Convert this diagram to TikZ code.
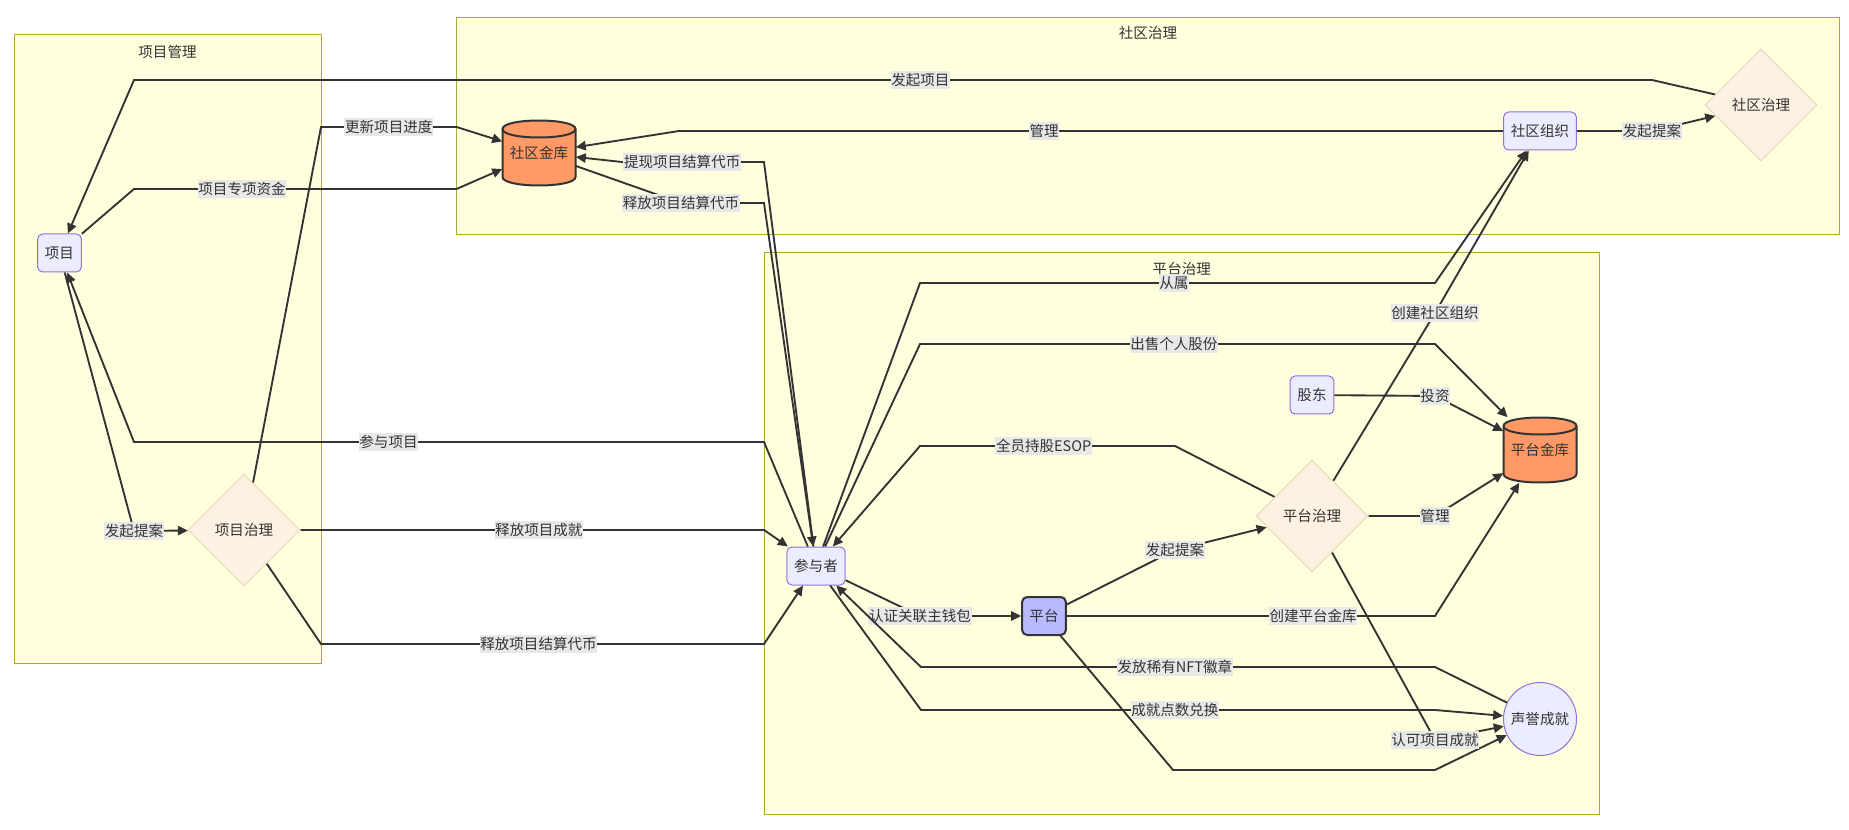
\documentclass[tikz,border=0pt]{standalone}
\usepackage{fontspec}
\setmainfont{Noto Sans CJK SC}
\usepackage{xcolor}
\definecolor{ink}{HTML}{333333}
\definecolor{lilac}{HTML}{ECECFF}
\definecolor{purpleline}{HTML}{9370DB}
\definecolor{cream}{HTML}{FFFFDE}
\definecolor{clusterline}{HTML}{AAAA33}
\definecolor{sand}{HTML}{FDF2E1}
\definecolor{sandline}{HTML}{EBDDC2}
\definecolor{tankorange}{HTML}{FF9966}
\definecolor{platform}{HTML}{B9B9FF}
\definecolor{labelgray}{HTML}{E8E8E8}
\usepackage{tikz}
\usetikzlibrary{arrows.meta,shapes.geometric}
\tikzset{
    cluster/.style={draw=clusterline, fill=cream, line width=0.75pt, inner sep=0pt},
    entity/.style={draw=purpleline, fill=lilac, line width=0.75pt, rounded corners=3.75pt, minimum height=28.5pt, inner xsep=5.5pt, inner ysep=0pt},
    core/.style={entity, draw=ink, fill=platform, line width=1.5pt},
    decision/.style={diamond, aspect=1, draw=sandline, fill=sand, line width=1pt, minimum width=84pt, minimum height=84pt, inner sep=0pt},
    tank/.style={minimum width=54.75pt, minimum height=48.75pt, inner sep=0pt},
    tankline/.style={draw=ink, fill=tankorange, line width=1.5pt},
    tankrim/.style={draw=ink, line width=1.5pt},
    badge/.style={circle, draw=purpleline, fill=lilac, line width=0.75pt, minimum size=54.75pt, inner sep=0pt},
    flow/.style={-{Triangle[length=7.5pt, width=7pt]}, draw=ink, line width=1.4pt},
    tag/.style={fill=labelgray, text=ink, inner xsep=0.5pt, inner ysep=1.5pt}
}
% cylinder body drawn behind a tank node, #1/#2 = centre
\newcommand{\tankbody}[2]{%
  \draw[tankline] (#1-36.5,#2-24) -- (#1-36.5,#2+24)
    .. controls (#1-36.5,#2+35.33) and (#1+36.5,#2+35.33) .. (#1+36.5,#2+24)
    -- (#1+36.5,#2-24)
    .. controls (#1+36.5,#2-35.33) and (#1-36.5,#2-35.33) .. cycle;
  \draw[tankrim] (#1-36.5,#2-24)
    .. controls (#1-36.5,#2-12.67) and (#1+36.5,#2-12.67) .. (#1+36.5,#2-24);}

\begin{document}
\begin{tikzpicture}[x=0.75pt, y=-0.75pt, font=\fontsize{10.9pt}{13pt}\selectfont, text=ink]
  \useasboundingbox (0,0) rectangle (1849,830);

  % Subgraph frames
  \node[cluster, minimum width=230.25pt, minimum height=471pt] (xmglbox) at (167.5,349) {};
  \node[cluster, minimum width=1037.25pt, minimum height=162.5pt] (sqzlbox) at (1148,125.7) {};
  \node[cluster, minimum width=626.7pt, minimum height=420.75pt] (ptzlbox) at (1181.8,533.5) {};
  \node (xmgltitle) at (167.5,52) {项目管理};
  \node (sqzltitle) at (1148,33) {社区治理};
  \node (ptzltitle) at (1181.8,269) {平台治理};

  % Project side
  \node[entity] (xm) at (59.5,253) {项目};
  \node[decision] (xmzl) at (244,530) {项目治理};

  % Community side
  \tankbody{539}{153}
  \node[tank] (ck) at (539,153) {社区金库};
  \node[entity] (sqzz) at (1540,131) {社区组织};
  \node[decision] (sqzl) at (1761,105) {社区治理};

  % Platform side
  \node[entity] (cyz) at (816,566) {参与者};
  \node[core] (pt) at (1044,616) {平台};
  \node[entity] (gd) at (1312,395) {股东};
  \node[decision] (ptzl) at (1312,516) {平台治理};
  \tankbody{1540}{450}
  \node[tank] (ptk) at (1540,450) {平台金库};
  \node[badge] (sycj) at (1540,719) {声誉成就};

  % Community links
  \draw[flow] (sqzl) -- (1652,80) -- node[tag, pos=0.482] {发起项目} (134,80) -- (xm);
  \draw[flow] (sqzz) -- node[tag, pos=0.557] {管理} (679,131) -- (ck);
  \draw[flow] (sqzz) -- (1652,131) node[tag] {发起提案} -- (sqzl);
  \draw[flow] (xm) -- (134,189) -- node[tag, pos=0.335] {项目专项资金} (456.5,189) -- (ck);
  \draw[flow] (xmzl) -- (321,127) -- node[tag] {更新项目进度} (456.5,127) -- (ck);
  \draw[flow] (cyz) -- (764,162) -- node[tag, pos=0.576] {提现项目结算代币} (622,162) -- (ck);
  \draw[flow] (ck) -- (681,203) node[tag] {释放项目结算代币} -- (764,203) -- (cyz);

  % Project links
  \draw[flow] (cyz) -- (764,442) -- node[tag, pos=0.596] {参与项目} (134,442) -- (xm);
  \draw[flow] (xm) -- (134,531) node[tag] {发起提案} -- (xmzl);
  \draw[flow] (xmzl) -- node[tag, pos=0.514] {释放项目成就} (764,530) -- (cyz);
  \draw[flow] (xmzl) -- (321,644) -- node[tag, pos=0.491] {释放项目结算代币} (764,644) -- (cyz);

  % Platform links
  \draw[flow] (cyz) -- (920,616) node[tag] {认证关联主钱包} -- (pt);
  \draw[flow] (pt) -- (1175,550) node[tag] {发起提案} -- (ptzl);
  \draw[flow] (pt) -- node[tag, pos=0.669] {创建平台金库} (1435,616) -- (ptk);
  \draw[flow] (pt) -- (1173,770) -- (1435,770) -- (sycj);
  \draw[flow] (ptzl) -- (1435,740) node[tag] {认可项目成就} -- (sycj);
  \draw[flow] (cyz) -- (921,710) -- node[tag, pos=0.494] {成就点数兑换} (1435,710) -- (sycj);
  \draw[flow] (sycj) -- (1435,667) -- node[tag, pos=0.506] {发放稀有NFT徽章} (921,667) -- (cyz);
  \draw[flow] (cyz) -- (920,283) -- node[tag, pos=0.493] {从属} (1435,283) -- (sqzz);
  \draw[flow] (ptzl) -- (1435,313) node[tag] {创建社区组织} -- (sqzz);
  \draw[flow] (cyz) -- (920,344) -- node[tag, pos=0.493] {出售个人股份} (1435,344) -- (ptk);
  \draw[flow] (ptzl) -- (1175,446) -- node[tag, pos=0.515] {全员持股ESOP} (920,446) -- (cyz);
  \draw[flow] (gd) -- (1435,396) node[tag] {投资} -- (ptk);
  \draw[flow] (ptzl) -- (1435,516) node[tag] {管理} -- (ptk);
\end{tikzpicture}
\end{document}
